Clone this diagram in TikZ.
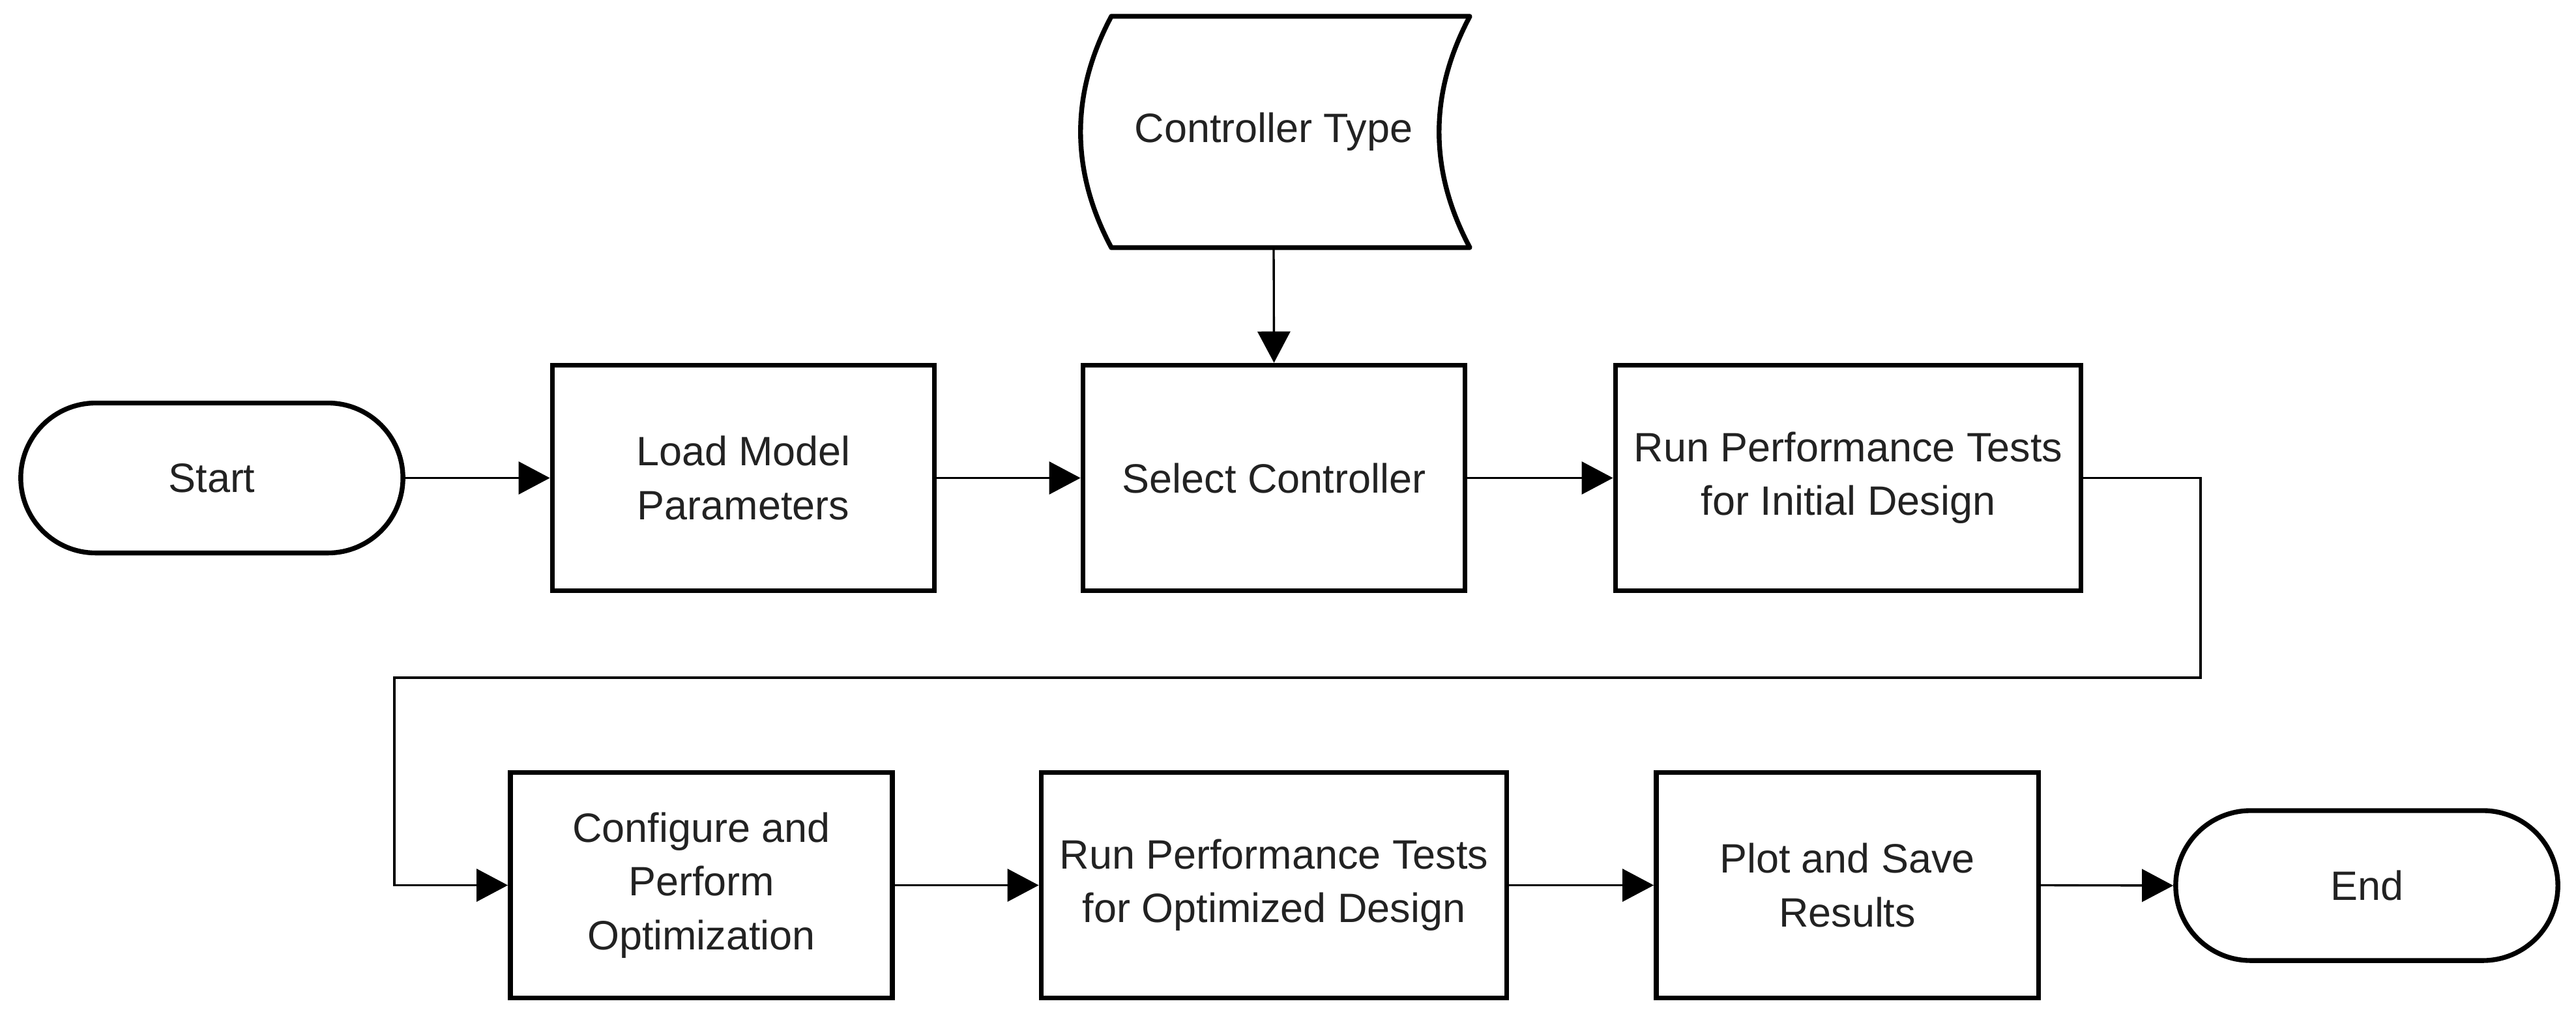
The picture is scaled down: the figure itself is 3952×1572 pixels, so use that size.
\documentclass[tikz,border=0pt]{standalone}
\usepackage{fontspec}
\setmainfont{Liberation Sans}
\usetikzlibrary{arrows.meta,calc}
\definecolor{txt}{HTML}{222222}
\begin{document}
\begin{tikzpicture}[x=0.01cm,y=-0.01cm,
  every node/.style={font=\fontsize{17.9}{23.4}\selectfont, text=txt, align=center},
  procbox/.style={draw=black, line width=2.1pt, fill=white, minimum width=5.86cm, minimum height=3.46cm, inner sep=0pt},
  widebox/.style={procbox, minimum width=7.14cm},
  termbox/.style={draw=black, line width=2.1pt, fill=white, rounded corners=1.15cm, minimum width=5.86cm, minimum height=2.30cm, inner sep=0pt},
  conn/.style={draw=black, line width=0.95pt, -{Triangle[length=0.48cm,width=0.5cm]}}
]
\useasboundingbox (0,0) rectangle (3952,1572);

% stored data shape
\draw[line width=2.1pt, line join=round]
  (1705,25) -- (2255,25)
  .. controls (2192,143) and (2192,262) .. (2255,380)
  -- (1705,380)
  .. controls (1642,262) and (1642,143) .. (1705,25) -- cycle;
\node[minimum width=5.5cm, minimum height=3.55cm, inner sep=0pt] (ctype) at (1954,202.5) {Controller Type};

\node[termbox] (start) at (325,733.5) {Start};
\node[procbox] (load) at (1140.5,733.5) {Load Model\\Parameters};
\node[procbox] (select) at (1954.5,733.5) {Select Controller};
\node[widebox] (runinit) at (2835.5,733.5) {Run Performance Tests\\for Initial Design};

\node[procbox] (config) at (1076,1358.5) {Configure and\\Perform\\Optimization};
\node[widebox] (runopt) at (1954.5,1358.5) {Run Performance Tests\\for Optimized Design};
\node[procbox] (plot) at (2834,1358.5) {Plot and Save\\Results};
\node[termbox] (end) at (3631,1359) {End};

\coordinate (c1) at (3376,1040);
\coordinate (c2) at (605,1040);

\draw[conn] (ctype.south) -- (select.north);
\draw[conn] (start.east) -- (load.west);
\draw[conn] (load.east) -- (select.west);
\draw[conn] (select.east) -- (runinit.west);
\draw[conn] (runinit.east) -| (c1) -- (c2) |- (config.west);
\draw[conn] (config.east) -- (runopt.west);
\draw[conn] (runopt.east) -- (plot.west);
\draw[conn] (plot.east) -- (end.west);
\end{tikzpicture}
\end{document}
